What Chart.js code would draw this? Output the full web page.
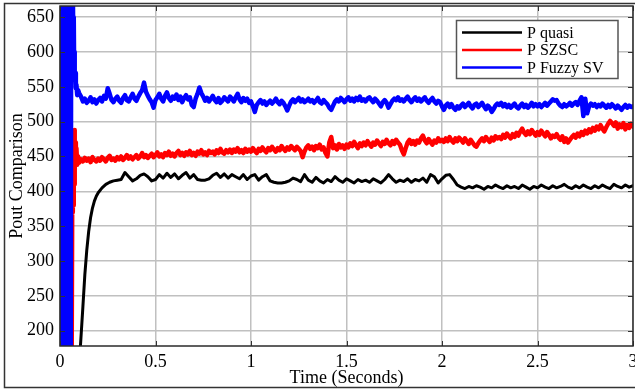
<!DOCTYPE html>
<html>
<head>
<meta charset="utf-8">
<script src="https://cdn.jsdelivr.net/npm/chart.js@4.4.1/dist/chart.umd.min.js"></script>
<style>
  html, body { margin: 0; padding: 0; background: #ffffff; }
  #wrap { width: 635px; height: 391px; }
</style>
</head>
<body>
<div id="wrap"><canvas id="chart" width="635" height="391"></canvas></div>
<script>
// Output power of the three controllers over the first 3 seconds.
const seriesLabels = ['P quasi', 'P SZSC', 'P Fuzzy SV'];
const seriesColors = ['#000000', '#ff0000', '#0000ff'];

const xTicks = [0, 0.5, 1, 1.5, 2, 2.5, 3];
const yTicks = [200, 250, 300, 350, 400, 450, 500, 550, 600, 650];

// Start-up transients (time in s, power in W)
const quasiStartT = [0, 0.05, 0.09, 0.107, 0.12, 0.13, 0.14, 0.15, 0.16, 0.17, 0.18, 0.19, 0.20, 0.22, 0.24, 0.26, 0.28, 0.30, 0.32, 0.34, 0.36];
const quasiStartV = [0, 30, 110, 178, 235, 280, 315, 342, 362, 376, 386, 393, 398, 405, 410, 413, 415, 416, 417, 427, 421];

const szscStartT = [0, 0.050, 0.054, 0.056, 0.058, 0.060, 0.062, 0.064, 0.066, 0.068, 0.070, 0.072, 0.074, 0.076, 0.078, 0.080, 0.083, 0.086, 0.090, 0.095];
const szscStartV = [0, 100, 160, 390, 150, 380, 150, 385, 370, 470, 380, 485, 410, 488, 430, 470, 440, 462, 438, 450];

const fuzzyStartT = [0.004, 0.006, 0.008, 0.010, 0.012, 0.014, 0.016, 0.018, 0.020, 0.022, 0.024, 0.026, 0.028, 0.030,
  0.032, 0.034, 0.036, 0.038, 0.040, 0.042, 0.044, 0.046, 0.048, 0.050, 0.052, 0.054, 0.056,
  0.058, 0.060, 0.062, 0.064, 0.066, 0.068, 0.070, 0.072, 0.074, 0.076, 0.078, 0.080, 0.083, 0.086, 0.090, 0.095];
const fuzzyStartV = [150, 720, 150, 720, 150, 720, 150, 720, 150, 720, 150, 720, 150, 720,
  150, 720, 150, 720, 150, 720, 150, 720, 150, 720, 150, 720, 150,
  560, 720, 600, 720, 610, 700, 600, 650, 580, 600, 560, 570, 548, 553, 538, 545];

// Steady-state samples
const quasiSteadyStart = 0.38, quasiSteadyStep = 0.02;
const quasiSteady = [
  415, 418, 423, 425, 421, 415, 417, 424, 419, 426,
  420, 425, 418, 423, 427, 419, 424, 417, 416, 416,
  418, 423, 426, 420, 425, 419, 424, 421, 418, 424,
  417, 422, 424, 416, 421, 424, 415, 413, 412, 412,
  413, 415, 419, 417, 414, 424, 416, 413, 420, 415,
  412, 417, 414, 421, 416, 413, 418, 415, 412, 417,
  414, 416, 413, 418, 415, 412, 417, 424, 418, 413,
  416, 414, 418, 413, 417, 415, 419, 413, 424, 421,
  412, 418, 423, 424, 417, 409, 406, 404, 407, 405,
  408, 406, 403, 407, 405, 409, 406, 404, 408, 405,
  407, 404, 409, 406, 403, 407, 405, 409, 406, 404,
  408, 405, 407, 410, 406, 404, 408, 405, 409, 406,
  404, 408, 405, 409, 406, 404, 410, 407, 405, 409,
  406, 408
];

const szscSteadyStart = 0.10, szscSteadyStep = 0.01;
const szscSteady = [
  441, 446, 443, 448, 444, 447, 442, 449, 445, 443,
  447, 444, 449, 446, 443, 448, 451, 445, 447, 444,
  449, 446, 450, 445, 448, 452, 447, 450, 446, 449,
  452, 447, 450, 455, 449, 452, 448, 451, 454, 449,
  452, 456, 450, 453, 449, 455, 452, 457, 451, 454,
  450, 455, 458, 452, 455, 451, 456, 453, 458, 452,
  455, 451, 457, 454, 459, 453, 456, 452, 458, 455,
  457, 453, 459, 455, 461, 456, 454, 459, 456, 460,
  455, 460, 457, 462, 456, 459, 455, 461, 457, 460,
  457, 462, 458, 455, 461, 458, 463, 459, 456, 462,
  459, 464, 460, 457, 462, 459, 465, 461, 458, 463,
  460, 465, 462, 459, 464, 461, 458, 449, 457, 463,
  466, 461, 464, 459, 465, 462, 467, 460, 463, 455,
  450, 470, 478, 462, 466, 460, 468, 463, 466, 461,
  467, 463, 469, 465, 471, 466, 462, 469, 465, 470,
  466, 472, 468, 464, 470, 467, 473, 469, 465, 471,
  468, 474, 469, 466, 472, 468, 474, 470, 467, 459,
  453, 462, 470, 474, 468, 472, 467, 473, 470, 476,
  480, 473, 469, 475, 471, 467, 473, 470, 476, 472,
  474, 471, 476, 472, 478, 473, 470, 476, 472, 477,
  474, 470, 476, 472, 468, 474, 470, 466, 464, 469,
  473, 476, 472, 478, 474, 471, 477, 473, 479, 476,
  478, 475, 481, 477, 483, 479, 476, 482, 478, 484,
  480, 486, 490, 484, 481, 486, 482, 488, 484, 480,
  485, 481, 487, 483, 479, 485, 481, 476, 480, 478,
  482, 477, 474, 479, 471, 476, 470, 474, 478, 481,
  477, 483, 479, 485, 481, 487, 483, 489, 485, 491,
  487, 493, 489, 495, 490, 486, 492, 497, 501, 498,
  494, 499, 490, 496, 492, 498, 489, 495, 491, 497,
  493
];

const fuzzySteadyStart = 0.10, fuzzySteadyStep = 0.01;
const fuzzySteady = [
  541, 536, 529, 533, 527, 530, 535, 528, 532, 526,
  531, 534, 529, 537, 533, 548, 540, 531, 528, 533,
  536, 530, 527, 534, 538, 531, 529, 535, 540, 533,
  530, 536, 541, 545, 556, 543, 537, 532, 528, 520,
  531, 535, 540, 533, 529, 537, 542, 534, 530, 536,
  533, 539, 531, 536, 528, 534, 538, 532, 535, 524,
  521, 533, 540, 549, 541, 536, 530, 534, 529, 533,
  537, 531, 528, 534, 527, 530, 535, 532, 529, 536,
  533, 529, 535, 540, 532, 528, 534, 530, 533, 527,
  529, 522, 514, 524, 528, 531, 526, 529, 524, 527,
  530, 526, 529, 533, 528, 525, 530, 527, 522, 516,
  523, 529, 532, 528, 531, 534, 529, 532, 528, 530,
  533, 529, 531, 527, 530, 534, 528, 526, 531, 528,
  525, 520, 517, 523, 529, 532, 529, 534, 531, 528,
  532, 535, 530, 533, 529, 534, 531, 536, 530, 532,
  529, 533, 535, 531, 528, 533, 530, 526, 522, 528,
  531, 527, 520, 525, 530, 533, 531, 535, 530, 532,
  529, 533, 536, 531, 528, 532, 535, 530, 533, 529,
  532, 535, 530, 527, 531, 534, 529, 526, 530, 528,
  522, 517, 523, 526, 521, 525, 520, 517, 522, 519,
  523, 526, 521, 524, 527, 522, 519, 524, 526, 521,
  524, 527, 522, 518, 523, 520, 514, 518, 523, 526,
  524, 527, 522, 525, 521, 524, 520, 523, 526, 521,
  519, 523, 526, 521, 524, 520, 523, 527, 522, 525,
  522, 525, 521, 524, 527, 523, 526, 529, 532, 530,
  531, 526, 523, 521, 525, 522, 524, 527, 523, 526,
  528, 524, 530, 535, 508, 533, 512, 522, 526, 523,
  525, 521, 524, 522, 526, 523, 520, 524, 521, 525,
  522, 519, 523, 520, 517, 521, 524, 520, 523, 521,
  522
];

// Join a transient segment and a uniformly sampled segment into {x, y} points
function buildSeries(startT, startV, t0, dt, steady) {
  const pts = startT.map((t, i) => ({ x: t, y: startV[i] }));
  steady.forEach((v, i) => pts.push({ x: +(t0 + i * dt).toFixed(3), y: v }));
  return pts;
}

const quasiData = buildSeries(quasiStartT, quasiStartV, quasiSteadyStart, quasiSteadyStep, quasiSteady);
const szscData = buildSeries(szscStartT, szscStartV, szscSteadyStart, szscSteadyStep, szscSteady);
const fuzzyData = buildSeries(fuzzyStartT, fuzzyStartV, fuzzySteadyStart, fuzzySteadyStep, fuzzySteady);

const serif = "'Liberation Serif', 'DejaVu Serif', serif";

// Axes box, inward tick marks, outer figure frame and the legend box
const decorPlugin = {
  id: 'decor',
  beforeDraw(chart) {
    const ctx = chart.ctx;
    ctx.save();
    ctx.fillStyle = '#ffffff';
    ctx.fillRect(0, 0, chart.width, chart.height);
    ctx.restore();
  },
  afterDatasetsDraw(chart) {
    const { ctx, chartArea: a, scales } = chart;
    const xs = scales.x, ys = scales.y;
    ctx.save();
    // tick marks on all four sides
    ctx.strokeStyle = '#333333';
    ctx.lineWidth = 1;
    const len = 5;
    ctx.beginPath();
    xTicks.forEach(v => {
      const px = Math.round(xs.getPixelForValue(v)) + 0.5;
      ctx.moveTo(px, a.bottom); ctx.lineTo(px, a.bottom - len);
      ctx.moveTo(px, a.top); ctx.lineTo(px, a.top + len);
    });
    yTicks.forEach(v => {
      const py = Math.round(ys.getPixelForValue(v)) + 0.5;
      ctx.moveTo(a.left, py); ctx.lineTo(a.left + len, py);
      ctx.moveTo(a.right, py); ctx.lineTo(a.right - len, py);
    });
    ctx.stroke();
    // axes box
    ctx.strokeStyle = '#2a2a2a';
    ctx.lineWidth = 1.5;
    ctx.strokeRect(a.left, a.top, a.right - a.left, a.bottom - a.top);
    // outer frame
    ctx.strokeStyle = '#333333';
    ctx.lineWidth = 1.5;
    ctx.strokeRect(4.5, 3.5, 645, 384);

    // legend
    const bx = 456.5, by = 20.5, bw = 161.5, bh = 58;
    ctx.fillStyle = '#ffffff';
    ctx.fillRect(bx, by, bw, bh);
    ctx.strokeStyle = '#555555';
    ctx.lineWidth = 1.5;
    ctx.strokeRect(bx, by, bw, bh);
    ctx.font = '16px ' + serif;
    ctx.textBaseline = 'middle';
    ctx.textAlign = 'left';
    chart.data.datasets.forEach((ds, i) => {
      const rowY = 32.5 + i * 17.5;
      ctx.strokeStyle = ds.borderColor;
      ctx.lineWidth = 2.5;
      ctx.beginPath();
      ctx.moveTo(462, rowY);
      ctx.lineTo(522, rowY);
      ctx.stroke();
      ctx.fillStyle = '#000000';
      ctx.fillText(ds.label, 527, rowY + 1);
    });
    ctx.restore();
  }
};

new Chart(document.getElementById('chart'), {
  type: 'line',
  data: {
    datasets: [
      { label: seriesLabels[0], data: quasiData, borderColor: seriesColors[0], borderWidth: 3, order: 3 },
      { label: seriesLabels[1], data: szscData, borderColor: seriesColors[1], borderWidth: 4.5, order: 2 },
      { label: seriesLabels[2], data: fuzzyData, borderColor: seriesColors[2], borderWidth: 4.5, order: 1 }
    ]
  },
  options: {
    responsive: false,
    animation: false,
    devicePixelRatio: 1,
    layout: { padding: { left: 0, right: 2, top: 6, bottom: 0 } },
    elements: {
      line: { tension: 0, borderJoinStyle: 'round', borderCapStyle: 'round', fill: false },
      point: { radius: 0, hoverRadius: 0 }
    },
    datasets: { line: { clip: 0 } },
    plugins: { legend: { display: false }, tooltip: { enabled: false } },
    scales: {
      x: {
        type: 'linear',
        min: 0,
        max: 3,
        afterBuildTicks: s => { s.ticks = xTicks.map(v => ({ value: v })); },
        afterFit: s => { s.height = 45; s.paddingLeft = 0; s.paddingRight = 0; },
        grid: { color: '#c0c0c0', lineWidth: 1.5, drawTicks: false },
        border: { display: false },
        ticks: { color: '#000000', font: { family: serif, size: 18 }, padding: 5, maxRotation: 0, autoSkip: false,
                 callback: v => String(v) },
        title: { display: true, text: 'Time (Seconds)', color: '#000000', font: { family: serif, size: 18 }, padding: { top: 0, bottom: 2 } }
      },
      y: {
        type: 'linear',
        min: 178,
        max: 666,
        afterBuildTicks: s => { s.ticks = yTicks.map(v => ({ value: v })); },
        afterFit: s => { s.width = 60; s.paddingTop = 0; s.paddingBottom = 0; },
        grid: { color: '#c0c0c0', lineWidth: 1.5, drawTicks: false },
        border: { display: false },
        ticks: { color: '#000000', font: { family: serif, size: 18 }, padding: 6, autoSkip: false,
                 callback: v => String(v) },
        title: { display: true, text: 'Pout Comparison', color: '#000000', font: { family: serif, size: 18 }, padding: { top: 6, bottom: 0 } }
      }
    }
  },
  plugins: [decorPlugin]
});
</script>
</body>
</html>
